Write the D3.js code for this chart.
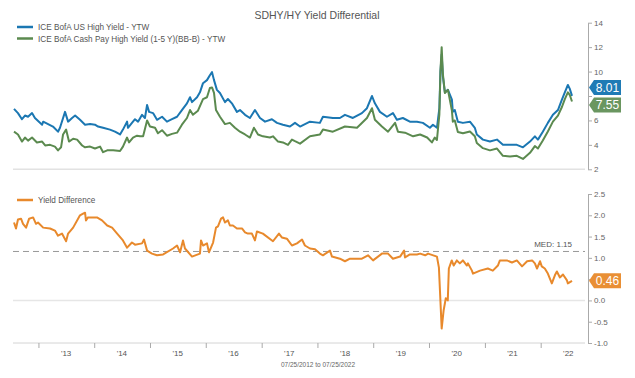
<!DOCTYPE html>
<html><head><meta charset="utf-8">
<script src="https://cdn.jsdelivr.net/npm/d3@7"></script>
<style>body{margin:0;background:#fff} text{font-family:"Liberation Sans",Arial,Helvetica,sans-serif}</style>
</head><body><svg id="c" width="635" height="378"></svg>
<script>
// ---------- DATA ----------
const chartTitle = "SDHY/HY Yield Differential";
const seriesNames = ["ICE BofA US High Yield - YTW", "ICE BofA Cash Pay High Yield (1-5 Y)(BB-B) - YTW", "Yield Difference"];
const dateRangeLabel = "07/25/2012 to 07/25/2022";
const medianValue = 1.15;
const topTicks = [2, 4, 6, 8, 10, 12, 14];
const bottomTicks = [-1.0, -0.5, 0.0, 0.5, 1.0, 1.5, 2.0, 2.5];
const yearLabels = ["'13","'14","'15","'16","'17","'18","'19","'20","'21","'22"];

const hyDates = [
 "2012-07-25","2012-08-20","2012-09-15","2012-10-05","2012-10-25","2012-11-20","2012-12-09",
 "2013-01-25","2013-02-01","2013-03-05","2013-04-06","2013-05-09","2013-05-22","2013-06-24","2013-07-14","2013-08-09","2013-08-29","2013-09-30","2013-11-02","2013-12-05",
 "2014-01-06","2014-01-26","2014-02-28","2014-04-14","2014-05-17","2014-06-19","2014-07-08","2014-08-04","2014-08-10","2014-09-05","2014-09-25","2014-10-15","2014-11-10","2014-11-29","2014-12-13","2014-12-26",
 "2015-01-21","2015-02-16","2015-03-21","2015-04-22","2015-05-25","2015-06-27","2015-07-29","2015-08-31","2015-09-20","2015-10-03","2015-11-05","2015-11-24","2015-12-14",
 "2016-01-09","2016-01-28","2016-02-11","2016-02-24","2016-03-14","2016-04-03","2016-05-06","2016-05-25","2016-06-20","2016-07-23","2016-08-12","2016-09-14","2016-10-16","2016-11-18","2016-12-21",
 "2017-01-23","2017-03-09","2017-04-11","2017-05-20","2017-07-05","2017-08-07","2017-09-09","2017-11-13",
 "2018-01-17","2018-02-06","2018-04-12","2018-05-28","2018-06-30","2018-08-21","2018-10-19","2018-11-21","2018-12-24",
 "2019-01-12","2019-02-14","2019-04-01","2019-05-10","2019-06-05","2019-07-14","2019-08-29","2019-10-14","2019-11-22",
 "2020-01-07","2020-01-27","2020-02-22","2020-03-09","2020-03-16","2020-03-24","2020-04-01","2020-04-14","2020-05-04","2020-05-30","2020-06-05","2020-06-18","2020-07-08","2020-08-10","2020-09-25","2020-10-27","2020-11-09","2020-12-19",
 "2021-02-03","2021-03-21","2021-04-29","2021-06-14","2021-07-29","2021-09-07","2021-10-23","2021-11-24","2021-12-14",
 "2022-01-15","2022-02-17","2022-03-22","2022-04-24","2022-05-20","2022-06-08","2022-06-28","2022-07-10","2022-07-25"];
const hyValues = [
 6.95,6.6,6.1,6.4,6.3,6.6,6.2,
 5.65,5.9,5.7,5.5,5.08,5.4,6.7,5.9,6.2,6.4,6.05,5.65,5.7,
 5.65,5.5,5.4,5.25,5.08,4.85,5.25,5.9,5.4,5.8,6.1,5.9,6.46,6.2,7.27,6.7,
 6.6,6.05,6.3,5.9,6.1,6.3,6.85,7.4,7.9,7.5,7.9,8.3,9.05,
 9.3,9.7,9.95,9.3,8.5,8.25,7.5,7.75,7.4,6.7,6.85,6.46,6.2,6.85,6.2,
 5.9,6.1,5.8,5.65,5.5,5.8,5.5,5.9,
 5.8,6.3,6.2,6.2,6.46,6.2,6.6,7.0,8.0,
 7.4,6.7,6.3,6.6,6.05,6.2,5.9,5.9,5.8,
 5.4,5.65,5.4,7.0,10.0,11.4,9.6,8.3,8.5,7.7,6.7,6.85,5.9,5.8,5.9,5.4,4.85,4.43,
 4.27,4.43,4.0,4.0,4.0,3.8,4.27,4.7,4.43,
 5.08,5.8,6.46,6.85,7.7,8.3,8.9,8.6,8.01];

const cpDates = [
 "2012-07-25","2012-08-20","2012-09-15","2012-10-05","2012-10-25","2012-11-20","2012-12-22",
 "2013-01-25","2013-02-14","2013-03-18","2013-04-19","2013-05-09","2013-05-29","2013-06-11","2013-07-01","2013-07-20","2013-08-16","2013-09-11","2013-10-14","2013-11-02","2013-12-05",
 "2014-01-06","2014-02-08","2014-02-28","2014-03-27","2014-05-05","2014-06-19","2014-07-08","2014-08-04","2014-08-17","2014-09-12","2014-10-08","2014-10-28","2014-11-17","2014-12-13",
 "2015-01-01","2015-02-03","2015-02-22","2015-03-21","2015-04-22","2015-05-25","2015-06-27","2015-07-29","2015-08-31","2015-09-20","2015-10-09","2015-11-11","2015-12-14",
 "2016-01-09","2016-01-28","2016-02-11","2016-02-24","2016-03-08","2016-04-03","2016-05-06","2016-06-07","2016-07-10","2016-08-12","2016-09-14","2016-10-16","2016-11-11","2016-12-08",
 "2017-01-09","2017-02-24","2017-03-16","2017-04-18","2017-05-20","2017-06-22","2017-07-18","2017-08-07","2017-09-09","2017-11-13",
 "2018-01-17","2018-02-06","2018-04-12","2018-06-30","2018-09-17","2018-11-21","2018-12-24",
 "2019-01-12","2019-02-27","2019-04-08","2019-05-24","2019-06-12","2019-07-28","2019-09-19","2019-11-04","2019-12-20",
 "2020-01-20","2020-02-08","2020-02-22","2020-03-09","2020-03-16","2020-03-24","2020-04-01","2020-04-14","2020-05-04","2020-05-30","2020-06-05","2020-06-18","2020-07-08","2020-08-10","2020-09-25","2020-10-27","2020-11-09","2020-12-19",
 "2021-02-03","2021-03-21","2021-04-29","2021-06-14","2021-07-29","2021-09-07","2021-10-23","2021-11-24","2021-12-14",
 "2022-01-15","2022-02-17","2022-03-22","2022-04-24","2022-05-20","2022-06-08","2022-06-28","2022-07-10","2022-07-25"];
const cpValues = [
 5.08,4.85,4.27,4.6,4.35,4.6,4.2,
 4.27,3.95,4.0,3.86,3.55,3.8,4.85,5.25,4.27,4.5,4.43,3.95,3.8,3.86,
 3.7,3.86,3.4,3.55,3.55,3.5,3.86,4.6,4.2,4.6,4.75,4.7,4.7,6.0,
 5.5,5.4,4.95,5.2,4.75,4.9,5.0,5.65,6.2,6.85,6.46,6.8,7.75,
 7.9,8.65,8.7,8.25,6.85,6.3,5.7,5.8,5.4,5.08,4.85,4.6,5.4,4.85,
 4.7,4.6,4.7,4.27,4.2,4.0,4.43,4.3,4.1,4.7,
 4.85,5.25,5.08,5.5,5.4,6.2,7.0,
 6.05,5.5,5.08,5.8,5.08,5.0,4.7,4.85,4.6,
 4.2,4.6,4.4,6.5,10.0,12.0,9.8,8.25,8.5,6.8,5.9,6.0,5.05,4.95,5.1,4.7,4.15,3.73,
 3.55,3.7,3.1,3.05,3.1,2.85,3.35,3.9,3.7,
 4.35,5.1,5.9,6.4,7.1,7.75,8.3,8.1,7.55];

const diffDates = [
 "2012-07-25","2012-08-07","2012-08-20","2012-09-09","2012-09-22","2012-10-12","2012-11-01","2012-11-27","2012-12-16","2012-12-29",
 "2013-02-01","2013-03-18","2013-04-19","2013-05-09","2013-06-04","2013-07-01","2013-07-14","2013-08-16","2013-09-30","2013-10-20","2013-11-02","2013-11-08","2013-11-21",
 "2014-01-19","2014-02-21","2014-03-27","2014-04-28","2014-05-31","2014-07-08","2014-08-04","2014-09-05","2014-09-25","2014-11-10","2014-11-23","2014-12-13",
 "2015-01-14","2015-02-16","2015-03-28","2015-06-01","2015-06-27","2015-07-17","2015-08-05","2015-08-18","2015-10-03","2015-11-24","2015-12-01","2015-12-14",
 "2016-01-09","2016-01-22","2016-02-18","2016-03-08","2016-03-21","2016-04-10","2016-04-23","2016-05-06","2016-05-25","2016-06-07","2016-06-27","2016-07-23","2016-08-25","2016-09-14","2016-10-03","2016-10-29","2016-11-18","2016-12-01",
 "2017-01-09","2017-03-16","2017-04-24","2017-05-13","2017-06-15","2017-07-18","2017-08-20","2017-09-22","2017-10-11","2017-11-13","2017-12-16",
 "2018-01-17","2018-02-06","2018-03-24","2018-04-06","2018-05-28","2018-06-30","2018-08-02","2018-10-19","2018-11-28","2018-12-31",
 "2019-02-27","2019-04-08","2019-05-10","2019-06-26","2019-07-22","2019-07-28","2019-08-29","2019-10-14","2019-11-04","2019-12-07","2019-12-26",
 "2020-02-22","2020-03-06","2020-03-24","2020-04-06","2020-04-20","2020-05-03","2020-05-10","2020-05-29","2020-06-11","2020-07-01","2020-07-21","2020-08-10","2020-09-05","2020-09-12","2020-10-08","2020-10-15","2020-11-30",
 "2021-01-20","2021-02-22","2021-03-27","2021-04-09","2021-05-25","2021-06-27","2021-07-29","2021-09-01","2021-10-04","2021-11-06","2021-11-24","2021-12-08","2021-12-28",
 "2022-01-08","2022-01-28","2022-02-17","2022-03-15","2022-04-04","2022-04-17","2022-05-07","2022-05-27","2022-06-22","2022-06-28","2022-07-25"];
const diffValues = [
 1.83,1.69,1.9,1.92,1.8,1.71,1.92,1.95,1.8,1.83,
 1.71,1.69,1.64,1.52,1.57,1.39,1.57,1.71,2.0,2.04,2.06,1.88,1.95,
 1.95,1.88,1.76,1.71,1.57,1.41,1.24,1.36,1.31,1.34,1.43,1.17,
 1.10,1.06,1.08,1.22,1.29,1.13,1.41,1.22,1.03,1.10,1.41,1.29,
 1.34,1.13,1.36,1.71,1.74,1.92,1.95,1.83,1.88,1.76,1.76,1.69,1.69,1.6,1.57,1.57,1.41,1.62,
 1.57,1.39,1.57,1.48,1.45,1.29,1.34,1.43,1.29,1.22,1.20,
 1.10,1.06,1.17,1.03,0.98,0.92,0.98,0.98,1.06,0.94,
 1.10,1.10,0.98,1.03,1.17,1.01,1.08,1.08,1.10,1.06,1.10,
 1.03,0.77,-0.66,-0.23,0.05,0.0,0.75,0.94,0.82,0.94,0.87,0.94,0.82,0.87,0.70,0.63,0.70,
 0.75,0.70,0.82,0.94,0.94,0.89,0.94,0.80,0.92,0.94,0.87,0.75,0.92,
 0.80,0.75,0.63,0.40,0.59,0.68,0.54,0.61,0.47,0.40,0.46];

// ---------- CHART ----------
const parse = d3.timeParse("%Y-%m-%d");
const zip = (ds, vs) => ds.map((d, i) => ({date: parse(d), v: vs[i]}));
const hy = zip(hyDates, hyValues), cp = zip(cpDates, cpValues), df = zip(diffDates, diffValues);

const colBlue = "#1b77b2", colGreen = "#5b8a4f", colOrange = "#e8892c";
const plotL = 13, plotR = 585, axisX = 588;

const svg = d3.select("#c");
const x = d3.scaleTime().domain([parse("2012-07-25"), parse("2022-07-25")]).range([14, 572]);
const yTop = d3.scaleLinear().domain([2, 14]).range([169.3, 22.7]);
const yBot = d3.scaleLinear().domain([-1, 2.5]).range([343, 194]);

// badge positions (computed first so covered tick labels can be dropped)
const lastHy = hyValues[hyValues.length - 1], lastCp = cpValues[cpValues.length - 1], lastDf = diffValues[diffValues.length - 1];
let bY = yTop(lastHy), gY = yTop(lastCp);
const gap = 17.5, badgeH = 15;
if (gY - bY < gap) { const m = (bY + gY) / 2 - 2.5; bY = m - gap / 2; gY = m + gap / 2; }
const oY = yBot(lastDf);
const badgeYs = [bY, gY, oY];
const covered = y => badgeYs.some(c => Math.abs(c - y) < badgeH / 2 + 4);

// title
svg.append("text").attr("x", 317).attr("y", 19).attr("text-anchor", "middle")
  .attr("font-size", 10.5).attr("fill", "#555").text(chartTitle);

// gridlines
svg.append("line").attr("x1", plotL).attr("x2", plotR).attr("y1", yTop(2)).attr("y2", yTop(2))
  .attr("stroke", "#e2e2e2").attr("stroke-width", 1.5);
svg.append("line").attr("x1", plotL).attr("x2", plotR).attr("y1", yBot(0)).attr("y2", yBot(0))
  .attr("stroke", "#e6e6e6").attr("stroke-width", 1.5);
svg.append("line").attr("x1", plotL).attr("x2", plotR).attr("y1", yBot(-1)).attr("y2", yBot(-1))
  .attr("stroke", "#d4d4d4").attr("stroke-width", 1);

// median line
svg.append("line").attr("x1", plotL).attr("x2", plotR).attr("y1", yBot(medianValue)).attr("y2", yBot(medianValue))
  .attr("stroke", "#999").attr("stroke-width", 1).attr("stroke-dasharray", "6,4");
svg.append("text").attr("x", 572).attr("y", yBot(medianValue) - 4).attr("text-anchor", "end")
  .attr("font-size", 8).attr("fill", "#555").text("MED: " + medianValue.toFixed(2));

// right axes
function styleAxis(g, scale) {
  g.select(".domain").attr("stroke", "#aaa");
  g.selectAll(".tick line").attr("stroke", "#aaa");
  g.selectAll(".tick text").attr("fill", "#666").attr("font-size", 8)
    .attr("font-family", "'Liberation Sans',Arial,sans-serif");
  g.selectAll(".tick").filter(d => covered(scale(d))).select("text").remove();
}
svg.append("g").attr("transform", `translate(${axisX},0)`)
  .call(d3.axisRight(yTop).tickValues(topTicks).tickSize(4).tickSizeOuter(0).tickPadding(2).tickFormat(d => String(d)))
  .call(g => styleAxis(g, yTop));
svg.append("g").attr("transform", `translate(${axisX},0)`)
  .call(d3.axisRight(yBot).tickValues(bottomTicks).tickSize(4).tickSizeOuter(0).tickPadding(2).tickFormat(d => d.toFixed(1)))
  .call(g => styleAxis(g, yBot));

// x axis ticks (year starts) and mid-year labels
const yearStarts = d3.range(2013, 2023).map(y => new Date(y, 0, 1));
const gx = svg.append("g").attr("transform", `translate(0,${yBot(-1)})`)
  .call(d3.axisBottom(x).tickValues(yearStarts).tickSize(5).tickFormat(""));
gx.select(".domain").remove();
gx.selectAll(".tick line").attr("stroke", "#aaa");
svg.append("g").selectAll("text").data(yearLabels).join("text")
  .attr("x", (d, i) => x(new Date(2013 + i, 6, 1)))
  .attr("y", 356).attr("text-anchor", "middle").attr("font-size", 8).attr("fill", "#555").text(d => d);
svg.append("text").attr("x", 318).attr("y", 367).attr("text-anchor", "middle")
  .attr("font-size", 6.5).attr("fill", "#666").text(dateRangeLabel);

// lines
const lineTop = d3.line().x(d => x(d.date)).y(d => yTop(d.v));
const lineBot = d3.line().x(d => x(d.date)).y(d => yBot(d.v));
svg.append("path").datum(hy).attr("d", lineTop).attr("fill", "none").attr("stroke", colBlue)
  .attr("stroke-width", 2).attr("stroke-linejoin", "round");
svg.append("path").datum(cp).attr("d", lineTop).attr("fill", "none").attr("stroke", colGreen)
  .attr("stroke-width", 2).attr("stroke-linejoin", "round");
svg.append("path").datum(df).attr("d", lineBot).attr("fill", "none").attr("stroke", colOrange)
  .attr("stroke-width", 2).attr("stroke-linejoin", "round");

// legends
function legend(y, color, label) {
  svg.append("line").attr("x1", 17).attr("x2", 33).attr("y1", y).attr("y2", y)
    .attr("stroke", color).attr("stroke-width", 2.5);
  svg.append("text").attr("x", 38).attr("y", y + 3).attr("font-size", 8.2).attr("fill", "#555").text(label);
}
legend(27, colBlue, seriesNames[0]);
legend(38.5, colGreen, seriesNames[1]);
legend(200, colOrange, seriesNames[2]);

// value badges
function badge(cy, color, val) {
  const x0 = 589, w = 32, h = badgeH;
  svg.append("path").attr("d", `M${x0},${cy} L${x0 + 5},${cy - h / 2} L${x0 + w},${cy - h / 2} L${x0 + w},${cy + h / 2} L${x0 + 5},${cy + h / 2} Z`)
    .attr("fill", color);
  svg.append("text").attr("x", x0 + 18.5).attr("y", cy).attr("dy", "0.36em").attr("text-anchor", "middle")
    .attr("font-size", 12).attr("fill", "#fff").text(val.toFixed(2));
}
badge(bY, "#1f7bb5", lastHy);
badge(gY, "#6a9660", lastCp);
badge(oY, "#e98f35", lastDf);
</script></body></html>
